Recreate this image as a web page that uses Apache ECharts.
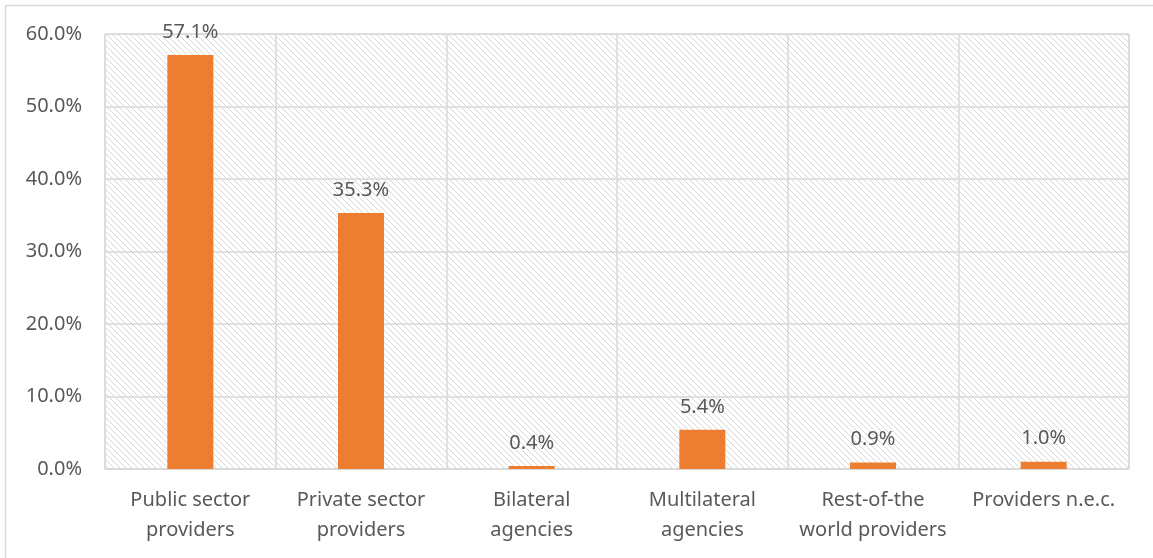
<!DOCTYPE html>
<html>
<head>
<meta charset="utf-8">
<script src="https://cdn.jsdelivr.net/npm/echarts@6/dist/echarts.min.js"></script>
<style>
  html, body { margin: 0; padding: 0; background: #fff; }
  #chart { width: 1153px; height: 558px; }
</style>
</head>
<body>
<div id="chart"></div>
<script>
// Share of funding by provider type (%)
const categories = [
  'Public sector\nproviders',
  'Private sector\nproviders',
  'Bilateral\nagencies',
  'Multilateral\nagencies',
  'Rest-of-the\nworld providers',
  'Providers n.e.c.'
];
const shares = [57.1, 35.3, 0.4, 5.4, 0.9, 1.0];
const yTicks = { min: 0, max: 60, interval: 10 };

// Light diagonal hatch used as the plot-area fill
function hatchTile() {
  const n = 6;
  const c = document.createElement('canvas');
  c.width = n; c.height = n;
  const ctx = c.getContext('2d');
  ctx.fillStyle = '#ffffff';
  ctx.fillRect(0, 0, n, n);
  ctx.fillStyle = '#d6d6d6';
  for (let i = 0; i < n; i++) {
    ctx.fillRect(i, i, 1, 1);
  }
  return c;
}

const textColor = '#595959';
const lineColor = '#d9d9d9';
const font = 'Noto Sans';

const chart = echarts.init(document.getElementById('chart'), null, { renderer: 'canvas' });
chart.setOption({
  animation: false,
  backgroundColor: '#ffffff',
  graphic: [
    {
      type: 'polyline',
      silent: true,
      shape: { points: [[5.5, 558], [5.5, 5.5], [1153, 5.5]] },
      style: { stroke: lineColor, lineWidth: 1.5, fill: null }
    }
  ],
  grid: {
    left: 105, right: 24, top: 34, bottom: 89,
    show: true,
    backgroundColor: { image: hatchTile(), repeat: 'repeat' },
    borderColor: lineColor,
    borderWidth: 1
  },
  xAxis: {
    type: 'category',
    data: categories,
    axisLine: { show: true, lineStyle: { color: lineColor, width: 1.5 } },
    axisTick: { show: false },
    splitLine: { show: true, lineStyle: { color: lineColor, width: 1.5 } },
    axisLabel: {
      color: textColor, fontFamily: font, fontSize: 20,
      lineHeight: 30, margin: 16, interval: 0
    }
  },
  yAxis: {
    type: 'value',
    min: yTicks.min, max: yTicks.max, interval: yTicks.interval,
    axisLine: { show: false },
    axisTick: { show: false },
    splitLine: { show: true, lineStyle: { color: lineColor, width: 1.5 } },
    axisLabel: {
      color: textColor, fontFamily: font, fontSize: 20, margin: 23,
      formatter: v => v.toFixed(1) + '%'
    }
  },
  series: [{
    type: 'bar',
    data: shares,
    barWidth: 46,
    itemStyle: { color: '#ed7d31' },
    label: {
      show: true, position: 'top', distance: 13,
      color: textColor, fontFamily: font, fontSize: 20,
      formatter: p => p.value.toFixed(1) + '%'
    }
  }]
});
</script>
</body>
</html>
